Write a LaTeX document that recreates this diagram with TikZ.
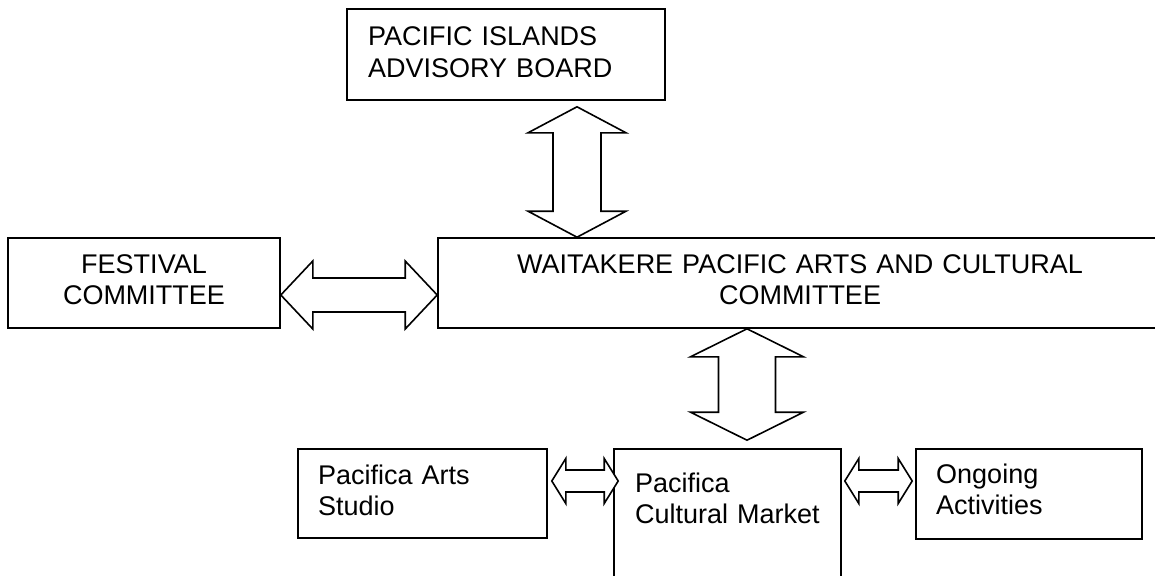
\documentclass[tikz,border=0pt]{standalone}
\usepackage{fontspec}
\setmainfont{Liberation Sans}
\usetikzlibrary{calc}
\tikzset{
  box/.style={draw, line width=1.6pt, rectangle, inner sep=0pt},
  lbl/.style={font=\fontsize{27}{31.5}\selectfont, inner sep=0pt, text width=#1},
  blk/.style={draw, line width=1.6pt, line join=miter, fill=white}
}
% vertical block double arrow: #1 top tip, #2 bottom tip, #3 shaft half, #4 head half, #5 head length
\newcommand{\vblockarrow}[5]{%
  \draw[blk] let \p1=(#1), \p2=(#2) in
    (\p1) -- (\x1+#4pt,\y1-#5pt) -- (\x1+#3pt,\y1-#5pt) -- (\x2+#3pt,\y2+#5pt)
    -- (\x2+#4pt,\y2+#5pt) -- (\p2) -- (\x2-#4pt,\y2+#5pt) -- (\x2-#3pt,\y2+#5pt)
    -- (\x1-#3pt,\y1-#5pt) -- (\x1-#4pt,\y1-#5pt) -- cycle;}
% horizontal block double arrow: #1 left tip, #2 right tip, #3 shaft half, #4 head half, #5 head length
\newcommand{\hblockarrow}[5]{%
  \draw[blk] let \p1=(#1), \p2=(#2) in
    (\p1) -- (\x1+#5pt,\y1+#4pt) -- (\x1+#5pt,\y1+#3pt) -- (\x2-#5pt,\y2+#3pt)
    -- (\x2-#5pt,\y2+#4pt) -- (\p2) -- (\x2-#5pt,\y2-#4pt) -- (\x2-#5pt,\y2-#3pt)
    -- (\x1+#5pt,\y1-#3pt) -- (\x1+#5pt,\y1-#4pt) -- cycle;}
\begin{document}
\begin{tikzpicture}[x=1pt,y=-1pt]
\useasboundingbox (0,0) rectangle (1155,575);
\clip (0,0) rectangle (1155,575);
\fill[white] (0,0) rectangle (1155,575);

% boxes
\node[box, minimum width=318pt, minimum height=91pt] (top) at (506,54.5) {};
\node[box, minimum width=272pt, minimum height=90pt] (fest) at (144,283) {};
\node[box, minimum width=724pt, minimum height=90pt] (wpac) at (800,283) {};
\node[box, minimum width=249pt, minimum height=89pt] (studio) at (422.5,493.5) {};
\node[box, minimum width=227pt, minimum height=170pt] (market) at (727.5,534) {};
\node[box, minimum width=226pt, minimum height=90pt] (ongoing) at (1029,494) {};

% texts
\node[lbl=290pt, align=left, anchor=base west] (toptxt) at (368,45.7) {PACIFIC ISLANDS\\ADVISORY BOARD};
\node[lbl=260pt, align=center, anchor=base] (festtxt) at (144,273) {FESTIVAL\\COMMITTEE};
\node[lbl=680pt, align=center, anchor=base] (wpactxt) at (800,273) {WAITAKERE PACIFIC ARTS AND CULTURAL\\COMMITTEE};
\node[lbl=220pt, align=left, anchor=base west] (studiotxt) at (318,484) {Pacifica Arts\\Studio};
\node[lbl=205pt, align=left, anchor=base west] (markettxt) at (635,492) {Pacifica\\Cultural Market};
\node[lbl=200pt, align=left, anchor=base west] (ongoingtxt) at (936,483) {Ongoing\\Activities};

% helper coordinates
\coordinate (cA) at (577,0);
\coordinate (cB) at (747,0);
\coordinate (yA) at (0,295);
\coordinate (yB) at (0,481);

\coordinate (v1a) at ($(top.south -| cA)+(0,6)$);
\coordinate (v1b) at (wpac.north -| cA);
\coordinate (v2a) at (wpac.south -| cB);
\coordinate (v2b) at ($(market.north -| cB)+(0,-8)$);
\coordinate (h1a) at (fest.east |- yA);
\coordinate (h1b) at (wpac.west |- yA);
\coordinate (h2a) at ($(studio.east |- yB)+(4,0)$);
\coordinate (h2b) at ($(market.west |- yB)+(5,0)$);
\coordinate (h3a) at ($(market.east |- yB)+(3,0)$);
\coordinate (h3b) at ($(ongoing.west |- yB)+(-3,0)$);

% arrows
\vblockarrow{v1a}{v1b}{24}{49}{26}
\vblockarrow{v2a}{v2b}{28.5}{56.5}{28}
\hblockarrow{h1a}{h1b}{17}{34}{32}
\hblockarrow{h2a}{h2b}{11}{22.5}{14}
\hblockarrow{h3a}{h3b}{11}{22.5}{14}
\end{tikzpicture}
\end{document}
